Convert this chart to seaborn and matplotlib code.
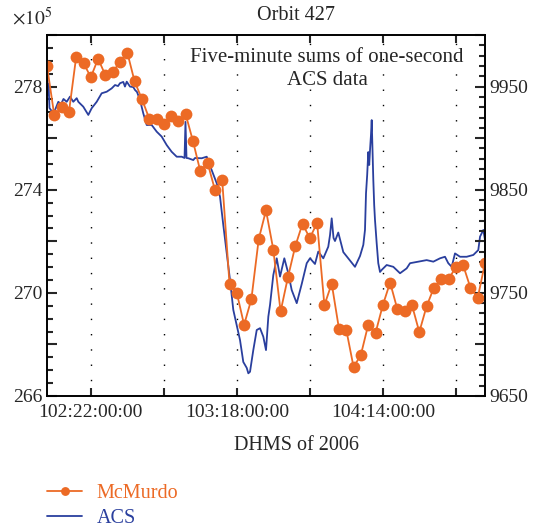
import numpy as np
import pandas as pd
import matplotlib
matplotlib.use("Agg")
import matplotlib.pyplot as plt
from matplotlib.ticker import MultipleLocator, FixedLocator, FuncFormatter
import seaborn as sns

# McMurdo hourly counts (right axis), hours after 102:16:00:00
mcm_hours = list(range(61))
mcm_counts = [9970, 9922, 9930, 9925, 9979, 9973, 9959, 9977, 9961, 9964,
              9974, 9983, 9955, 9938, 9919, 9919, 9914, 9921, 9917, 9923,
              9897, 9868, 9876, 9850, 9859, 9759, 9750, 9719, 9744, 9802,
              9830, 9792, 9732, 9765, 9795, 9817, 9803, 9818, 9738, 9759,
              9715, 9714, 9678, 9690, 9719, 9711, 9738, 9760, 9734, 9732,
              9738, 9712, 9737, 9755, 9763, 9763, 9775, 9777, 9755, 9745,
              9779]

# ACS five-minute sums (left axis, x10^5), hours after 102:16:00:00
acs_hours = [0.07, 0.14, 0.21, 0.34, 0.64, 1.10, 1.55, 1.92, 2.26, 2.70,
             3.15, 3.60, 4.07, 4.29, 4.97, 5.66, 6.12, 6.81, 7.49, 8.18,
             8.86, 9.32, 9.73, 10.00, 10.45, 10.68, 10.92, 11.37, 11.82, 12.05,
             12.33, 12.74, 13.19, 13.66, 14.34, 15.03, 15.71, 16.40, 17.08, 17.77,
             18.45, 18.84, 18.97, 19.11, 19.36, 20.04, 20.27, 21.19, 21.88, 22.56,
             23.25, 23.70, 24.15, 24.62, 25.07, 25.52, 25.99, 26.44, 26.89, 27.36,
             27.58, 27.81, 28.26, 28.73, 29.18, 29.63, 30.00, 30.32, 30.55, 31.00,
             31.47, 31.92, 32.51, 33.05, 33.52, 34.21, 34.89, 35.58, 36.03, 36.71,
             37.16, 37.85, 38.53, 38.77, 39.00, 39.25, 39.45, 39.90, 40.59, 41.27,
             42.19, 42.88, 43.33, 43.56, 43.70, 43.86, 44.01, 44.14, 44.25, 44.38,
             44.48, 44.59, 44.70, 44.82, 44.93, 45.16, 45.38, 45.62, 45.85, 46.53,
             47.44, 48.36, 49.27, 49.73, 50.86, 52.01, 52.92, 53.84, 54.52, 54.97,
             55.44, 55.89, 56.58, 57.49, 58.40, 59.08, 59.32, 59.77, 60.00]
acs_sums = [278.25, 277.67, 278.10, 277.17, 277.05, 277.09, 277.41, 277.32, 277.52, 277.41,
            277.61, 277.41, 277.55, 277.41, 277.22, 276.90, 277.16, 277.41, 277.74, 277.80,
            277.93, 278.06, 278.02, 278.13, 278.18, 278.00, 278.19, 278.00, 277.98, 277.87,
            277.79, 277.48, 276.96, 276.51, 276.51, 276.25, 276.06, 275.73, 275.47, 275.28,
            275.28, 275.23, 276.63, 275.23, 275.22, 275.15, 275.23, 275.22, 275.28, 274.76,
            274.25, 273.73, 272.63, 271.53, 270.50, 269.34, 268.75, 268.17, 267.32, 267.09,
            266.88, 266.94, 267.78, 268.56, 268.63, 268.30, 267.78, 269.08, 269.53, 270.69,
            271.34, 270.63, 271.34, 270.76, 270.11, 269.60, 270.34, 271.15, 271.34, 271.12,
            271.60, 271.34, 271.79, 272.24, 272.89, 272.13, 272.01, 272.34, 271.58, 271.34,
            271.01, 271.43, 271.86, 272.44, 273.86, 274.57, 275.46, 274.96, 275.54, 276.12,
            276.70, 275.54, 274.38, 273.41, 272.83, 271.93, 271.15, 270.81, 270.89, 271.08,
            271.01, 270.76, 270.95, 271.15, 271.21, 271.27, 271.21, 271.34, 271.40, 271.15,
            271.01, 271.53, 271.40, 271.40, 271.47, 271.66, 272.18, 272.44, 272.05]

xtick_hours = [6, 26, 46]
xtick_labels = ["102:22:00:00", "103:18:00:00", "104:14:00:00"]
grid_hours = [6, 16, 26, 36, 46, 56]

ORANGE = "#ec6a25"
BLUE = "#2a3f9e"
FS = 14

sns.set_style("ticks")
plt.rcParams["font.family"] = ["Liberation Serif", "DejaVu Serif"]
plt.rcParams["mathtext.fontset"] = "stix"

fig = plt.figure(figsize=(5.37, 5.32), dpi=100)
ax = fig.add_axes([47 / 537, 1 - 396 / 532, 438 / 537, 361 / 532])

acs = pd.DataFrame({"hours": acs_hours, "sums": acs_sums})
mcm = pd.DataFrame({"hours": mcm_hours, "counts": mcm_counts})

sns.lineplot(data=acs, x="hours", y="sums", ax=ax, color=BLUE, lw=1.3,
             label="ACS", legend=False)
ax.set_xlim(0, 60)
ax.set_ylim(266, 280)

ax2 = ax.twinx()
sns.lineplot(data=mcm, x="hours", y="counts", ax=ax2, color=ORANGE, lw=1.3,
             marker="o", markersize=8.5, markeredgewidth=0, label="McMurdo",
             legend=False)
ax2.set_ylim(9650, 10000)

# dotted vertical guides
for h in grid_hours:
    ax.axvline(h, color="black", lw=1.0, ls=(0, (1, 10)), zorder=0)

# x axis ticks
ax.xaxis.set_major_locator(FixedLocator(xtick_hours))
ax.set_xticklabels(xtick_labels)
ax.xaxis.set_minor_locator(FixedLocator([16, 36, 56]))
ax.tick_params(axis="x", which="both", direction="in", top=True, bottom=True,
               length=6, width=1.5, labelsize=FS, pad=6)

# left axis ticks
ax.yaxis.set_major_locator(MultipleLocator(2))
ax.yaxis.set_minor_locator(MultipleLocator(0.5))
ax.yaxis.set_major_formatter(FuncFormatter(
    lambda v, p: f"{v:.0f}" if round(v - 266) % 4 == 0 else ""))
ax.tick_params(axis="y", which="major", direction="in", length=7, width=1.5,
               labelsize=FS, left=True, right=False)
ax.tick_params(axis="y", which="minor", direction="in", length=4, width=1.5,
               left=True, right=False)

# right axis ticks
ax2.yaxis.set_major_locator(MultipleLocator(50))
ax2.yaxis.set_minor_locator(MultipleLocator(10))
ax2.yaxis.set_major_formatter(FuncFormatter(
    lambda v, p: f"{v:.0f}" if round(v - 9650) % 100 == 0 else ""))
ax2.tick_params(axis="y", which="major", direction="in", length=7, width=1.5,
                labelsize=FS)
ax2.tick_params(axis="y", which="minor", direction="in", length=4, width=1.5)

for a in (ax, ax2):
    for s in a.spines.values():
        s.set_visible(True)
        s.set_linewidth(1.2)
        s.set_color("black")

ax.set_ylabel("")
ax2.set_ylabel("")
ax.set_xlabel("")
fig.text(296 / 537, 1 - 446 / 532, "DHMS of 2006", fontsize=FS + 0.5,
         ha="center", va="center")
fig.text(296 / 537, 1 - 15 / 532, "Orbit 427", fontsize=FS + 0.5,
         ha="center", va="center")
fig.text(12 / 537, 1 - 18 / 532, r"$\times10^5$", fontsize=FS, va="center",
         ha="left")
fig.text(327 / 537, 1 - 69 / 532, "Five-minute sums of one-second\nACS data",
         ha="center", va="center", fontsize=15, linespacing=1.35)

handles = [ax2.get_lines()[0], ax.get_lines()[0]]
fig.legend(handles, ["McMurdo", "ACS"], loc="lower left",
           bbox_to_anchor=(47 / 537, 4 / 532), frameon=False, fontsize=FS + 0.5,
           labelcolor="linecolor", handlelength=1.75, handletextpad=0.7,
           labelspacing=0.3, markerscale=0.75, borderpad=0, borderaxespad=0)

fig.savefig("out.png", dpi=100)
